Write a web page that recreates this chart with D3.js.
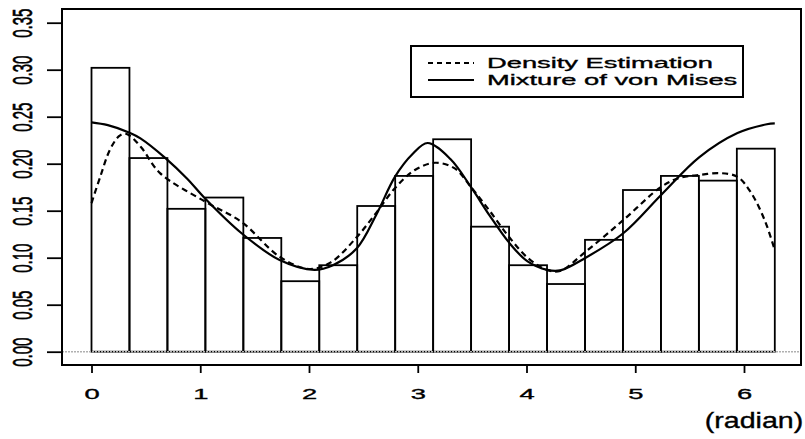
<!DOCTYPE html>
<html>
<head>
<meta charset="utf-8">
<script src="https://cdn.jsdelivr.net/npm/d3@7/dist/d3.min.js"></script>
<style>
  html, body { margin: 0; padding: 0; background: #fff; }
  svg { display: block; }
  text { font-family: "Liberation Sans", Arial, sans-serif; fill: #000; stroke: #000; stroke-width: 0.35; }
</style>
</head>
<body>
<svg id="chart" width="805" height="439"></svg>
<script>
// Histogram of angles (18 equal bins over [0, 2π]) — density per bin
const barDensity = [0.302, 0.206, 0.152, 0.164, 0.121, 0.075, 0.092, 0.155, 0.187,
                    0.226, 0.133, 0.092, 0.072, 0.119, 0.172, 0.187, 0.182, 0.216];

// Fitted mixture of von Mises density
const mixAngle   = [0, 0.15, 0.35, 0.45, 0.68, 0.88, 1.04, 1.38, 1.73, 2.05, 2.22, 2.44, 2.62,
                    2.79, 2.95, 3.09, 3.30, 3.49, 3.66, 3.84, 4.01, 4.19, 4.31, 4.54, 4.89,
                    5.24, 5.59, 5.94, 6.21, 6.283];
const mixDensity = [0.244, 0.241, 0.233, 0.227, 0.206, 0.184, 0.1635, 0.126, 0.0975, 0.087, 0.092,
                    0.110, 0.146, 0.186, 0.210, 0.222, 0.205, 0.175, 0.145, 0.116, 0.096, 0.087,
                    0.0865, 0.0997, 0.126, 0.167, 0.207, 0.2326, 0.242, 0.243];

// Kernel density estimate
const kdeAngle   = [0, 0.08, 0.17, 0.25, 0.30, 0.35, 0.46, 0.63, 1.04, 1.38, 1.73, 2.0, 2.2, 2.44,
                    2.62, 2.79, 2.97, 3.16, 3.34, 3.49, 3.66, 3.84, 4.01, 4.19, 4.31, 4.54, 4.89,
                    5.24, 5.41, 5.59, 5.78, 5.94, 6.06, 6.19, 6.283];
const kdeDensity = [0.158, 0.186, 0.215, 0.229, 0.232, 0.230, 0.217, 0.190, 0.160, 0.138, 0.101,
                    0.088, 0.095, 0.122, 0.148, 0.174, 0.193, 0.201, 0.195, 0.175, 0.150, 0.122,
                    0.100, 0.087, 0.086, 0.106, 0.140, 0.1755, 0.185, 0.188, 0.190, 0.186, 0.170,
                    0.140, 0.108];

const xTicks = [0, 1, 2, 3, 4, 5, 6];
const yTicks = [0, 0.05, 0.10, 0.15, 0.20, 0.25, 0.30, 0.35];
const legendLabels = ["Density Estimation", "Mixture of von Mises"];
const xUnitLabel = "(radian)";

const svg = d3.select("#chart");
const box = { left: 62, top: 9, right: 801, bottom: 365 };
const stretch = 1.82;   // wide text glyphs

const x = d3.scaleLinear().domain([0, 6]).range([91.5, 744]);
const y = d3.scaleLinear().domain([0, 0.35]).range([351.7, 22.7]);
const binWidth = 2 * Math.PI / barDensity.length;

// histogram bars
svg.append("g").selectAll("rect").data(barDensity).join("rect")
  .attr("x", (d, i) => x(i * binWidth))
  .attr("y", d => y(d))
  .attr("width", (d, i) => x((i + 1) * binWidth) - x(i * binWidth))
  .attr("height", d => y(0) - y(d))
  .attr("fill", "none")
  .attr("stroke", "#000")
  .attr("stroke-width", 1.8);

// zero reference line
svg.append("line")
  .attr("x1", box.left).attr("x2", box.right)
  .attr("y1", y(0)).attr("y2", y(0))
  .attr("stroke", "#b0b0b0").attr("stroke-width", 1.6)
  .attr("stroke-dasharray", "2,1");

const line = d3.line().x(d => x(d[0])).y(d => y(d[1])).curve(d3.curveCatmullRom);

svg.append("path")
  .datum(d3.zip(mixAngle, mixDensity))
  .attr("d", line)
  .attr("fill", "none").attr("stroke", "#000").attr("stroke-width", 2.2);

svg.append("path")
  .datum(d3.zip(kdeAngle, kdeDensity))
  .attr("d", line)
  .attr("fill", "none").attr("stroke", "#000").attr("stroke-width", 2.2)
  .attr("stroke-dasharray", "6,4");

// frame
svg.append("rect")
  .attr("x", box.left).attr("y", box.top)
  .attr("width", box.right - box.left).attr("height", box.bottom - box.top)
  .attr("fill", "none").attr("stroke", "#000").attr("stroke-width", 2);

// x axis
const gx = svg.append("g")
  .attr("transform", `translate(0,${box.bottom})`)
  .call(d3.axisBottom(x).tickValues(xTicks).tickSize(8).tickFormat(d3.format("d")));
gx.select(".domain").remove();
gx.selectAll(".tick line").attr("stroke", "#000").attr("stroke-width", 1.8);
gx.selectAll(".tick text")
  .attr("y", 0).attr("dy", null)
  .attr("transform", `translate(0,34) scale(${stretch},1)`)
  .attr("font-size", 15).attr("font-family", null).attr("fill", "#000");

// y axis
const gy = svg.append("g")
  .attr("transform", `translate(${box.left},0)`)
  .call(d3.axisLeft(y).tickValues(yTicks).tickSize(15).tickFormat(d3.format(".2f")));
gy.select(".domain").remove();
gy.selectAll(".tick line").attr("stroke", "#000").attr("stroke-width", 1.8);
gy.selectAll(".tick text")
  .attr("x", 0).attr("y", 0).attr("dy", null)
  .attr("text-anchor", "middle")
  .attr("transform", `translate(-30,0) scale(${stretch},1) rotate(-90)`)
  .attr("font-size", 15).attr("font-family", null).attr("fill", "#000");

// axis unit
svg.append("text")
  .attr("transform", "translate(754,428) scale(1.3,1)")
  .attr("text-anchor", "middle")
  .attr("font-size", 22)
  .text(xUnitLabel);

// legend
const lg = svg.append("g");
lg.append("rect")
  .attr("x", 411).attr("y", 46).attr("width", 332).attr("height", 51)
  .attr("fill", "#fff").attr("stroke", "#000").attr("stroke-width", 2);
const rows = [{ y: 63, dash: "5,4" }, { y: 80, dash: null }];
rows.forEach((r, i) => {
  lg.append("line")
    .attr("x1", 428).attr("x2", 474).attr("y1", r.y).attr("y2", r.y)
    .attr("stroke", "#000").attr("stroke-width", 1.8)
    .attr("stroke-dasharray", r.dash);
  lg.append("text")
    .attr("transform", `translate(487,${r.y + 5}) scale(${stretch},1)`)
    .attr("font-size", 15)
    .text(legendLabels[i]);
});
</script>
</body>
</html>
